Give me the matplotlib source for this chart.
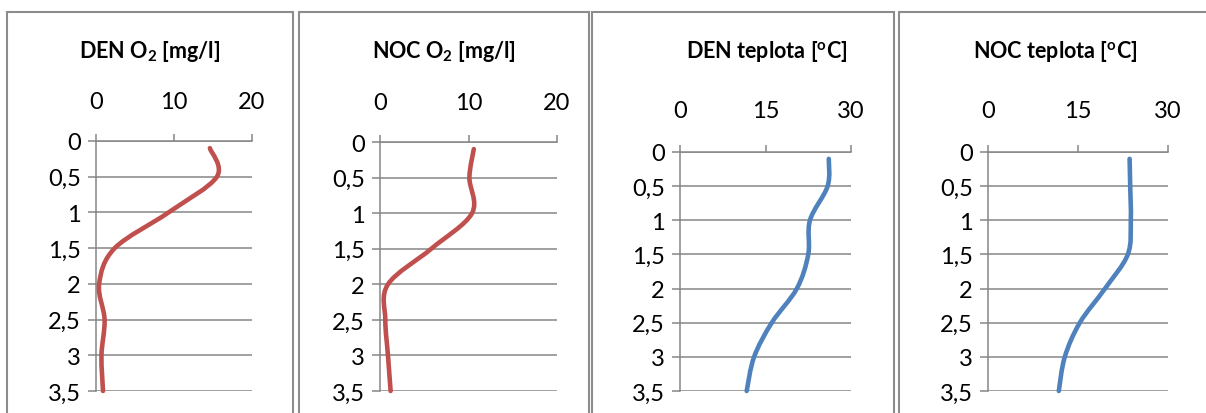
import numpy as np
import matplotlib
matplotlib.use("Agg")
import matplotlib.pyplot as plt
from matplotlib.path import Path
from matplotlib.patches import PathPatch, Rectangle

plt.rcParams["font.family"] = ["Lato", "DejaVu Sans"]
plt.rcParams["mathtext.fontset"] = "custom"
plt.rcParams["mathtext.rm"] = "Lato"
plt.rcParams["mathtext.bf"] = "Lato:bold"
plt.rcParams["mathtext.it"] = "Lato:italic"

# Depth of each measurement [m]
depth = [0.1, 0.5, 1.0, 1.5, 2.0, 2.5, 3.0, 3.5]

# Dissolved oxygen [mg/l]
o2_day = [14.6, 15.5, 9.3, 2.4, 0.4, 1.1, 0.7, 0.9]
o2_night = [10.6, 10.1, 10.4, 5.8, 0.9, 0.6, 0.9, 1.2]

# Water temperature [°C]
temp_day = [26.1, 25.9, 22.8, 22.5, 20.5, 16.1, 13.0, 11.7]
temp_night = [23.6, 23.7, 23.8, 23.3, 19.5, 15.3, 12.8, 11.8]

depth_ticks = [0, 0.5, 1, 1.5, 2, 2.5, 3, 3.5]
depth_labels = ["0", "0,5", "1", "1,5", "2", "2,5", "3", "3,5"]
o2_ticks = [0, 10, 20]
temp_ticks = [0, 15, 30]

titles = [r"DEN O$_\mathbf{2}$ [mg/l]", r"NOC O$_\mathbf{2}$ [mg/l]",
          r"DEN teplota [$^\mathbf{o}$C]", r"NOC teplota [$^\mathbf{o}$C]"]

RED = "#C0504D"
BLUE = "#4F81BD"
GRID = "#868686"

W, H = 1206, 414
fig = plt.figure(figsize=(W / 100, H / 100), dpi=100)


def px_axes(left, right, top, bottom):
    return fig.add_axes([left / W, 1 - bottom / H, (right - left) / W, (bottom - top) / H])


def smooth_path(xs, ys):
    """Cubic Bezier path through the points (Catmull-Rom style smoothing)."""
    pts = np.column_stack([xs, ys]).astype(float)
    n = len(pts)
    verts = [pts[0]]
    codes = [Path.MOVETO]
    for i in range(n - 1):
        p0 = pts[i - 1] if i > 0 else pts[i]
        p1 = pts[i]
        p2 = pts[i + 1]
        p3 = pts[i + 2] if i + 2 < n else pts[i + 1]
        c1 = p1 + (p2 - p0) / 6.0
        c2 = p2 - (p3 - p1) / 6.0
        verts += [c1, c2, p2]
        codes += [Path.CURVE4] * 3
    return Path(verts, codes)


# Panel frames
frames = [(7, 292.5), (299, 589), (592, 894), (899, 1215)]
for l, r in frames:
    fig.add_artist(Rectangle((l / W, -0.05), (r - l) / W, 1 - 13 / H + 0.05,
                             transform=fig.transFigure, fill=False,
                             edgecolor="#8C8C8C", linewidth=1.5))

panels = [
    dict(box=(96, 252, 142, 392), vals=o2_day, color=RED, xt=o2_ticks, xmax=20,
         title_x=150, pad=16),
    dict(box=(380, 557, 143, 392), vals=o2_night, color=RED, xt=o2_ticks, xmax=20,
         title_x=444, pad=16),
    dict(box=(680, 851, 153, 392), vals=temp_day, color=BLUE, xt=temp_ticks, xmax=30,
         title_x=767, pad=17),
    dict(box=(988, 1168, 153, 392), vals=temp_night, color=BLUE, xt=temp_ticks, xmax=30,
         title_x=1055, pad=17),
]

for p, title in zip(panels, titles):
    ax = px_axes(*p["box"])
    ax.set_xlim(0, p["xmax"])
    ax.set_ylim(3.5, 0)
    ax.set_facecolor("none")

    ax.xaxis.tick_top()
    ax.set_xticks(p["xt"])
    ax.set_xticklabels([str(t) for t in p["xt"]])
    ax.set_yticks(depth_ticks)
    ax.set_yticklabels(depth_labels)

    ax.tick_params(axis="x", direction="out", length=5, width=1.1, color=GRID,
                   labelsize=17, pad=p["pad"], labelcolor="black")
    ax.tick_params(axis="y", direction="out", length=6, width=1.1, color=GRID,
                   labelsize=17, pad=5, labelcolor="black")

    for side in ("right", "bottom"):
        ax.spines[side].set_visible(False)
    for side in ("top", "left"):
        ax.spines[side].set_color(GRID)
        ax.spines[side].set_linewidth(1.1)

    ax.yaxis.grid(True, color=GRID, linewidth=1.1)
    ax.set_axisbelow(True)

    patch = PathPatch(smooth_path(p["vals"], depth), fill=False, edgecolor=p["color"],
                      linewidth=3.3, capstyle="round", joinstyle="round",
                      transform=ax.transData, clip_on=False, zorder=3)
    ax.add_patch(patch)

    fig.text(p["title_x"] / W, 1 - 51 / H, title, ha="center", va="center",
             fontsize=15.5, fontweight="bold", color="black")

fig.savefig("out.png", dpi=100)
